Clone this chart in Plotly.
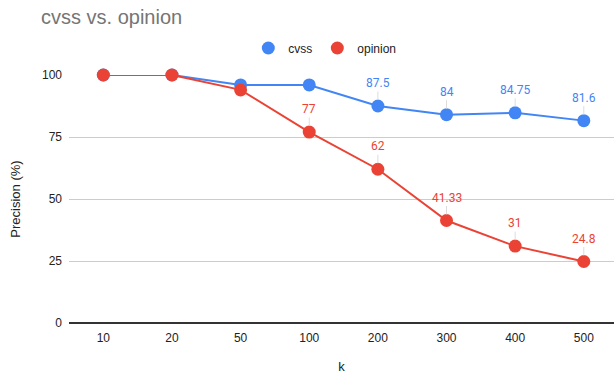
import plotly.graph_objects as go

# Precision at k for the two ranking methods
k_labels = ["10", "20", "50", "100", "200", "300", "400", "500"]
cvss = [100, 100, 96, 96, 87.5, 84, 84.75, 81.6]
opinion = [100, 100, 94, 77, 62, 41.33, 31, 24.8]
# which points carry a value label
cvss_labeled = [False, False, False, False, True, True, True, True]
opinion_labeled = [False, False, False, True, True, True, True, True]

BLUE = "#4285F4"
RED = "#EA4335"
FONT = "Liberation Sans, Arial, sans-serif"

fig = go.Figure()

for name, vals, color in [("cvss", cvss, BLUE), ("opinion", opinion, RED)]:
    fig.add_trace(go.Scatter(
        x=k_labels, y=vals, mode="lines+markers", name=name,
        line=dict(color=color, width=2),
        marker=dict(color=color, size=13),
        cliponaxis=False, showlegend=False,
    ))
    # legend entry shown as a plain dot
    fig.add_trace(go.Scatter(
        x=[None], y=[None], mode="markers", name=name,
        marker=dict(color=color, size=13),
    ))

annotations = []
for vals, flags, color in [(cvss, cvss_labeled, BLUE), (opinion, opinion_labeled, RED)]:
    for i, (v, f) in enumerate(zip(vals, flags)):
        if not f:
            continue
        # category axes place annotations by category index
        annotations.append(dict(
            x=i, y=v, xref="x", yref="y", text=f"{v:g}",
            showarrow=True, arrowhead=0, arrowwidth=1, arrowcolor="#dcdcdc",
            ax=0, ay=-23, standoff=6,
            font=dict(family="Roboto, sans-serif", size=12, color=color),
        ))

fig.update_layout(
    width=614, height=374,
    margin=dict(l=69, r=0, t=75, b=49),
    paper_bgcolor="white", plot_bgcolor="white",
    font=dict(family=FONT, size=12, color="#222"),
    title=dict(text="cvss vs. opinion", x=41 / 614, xref="container", xanchor="left",
               y=1 - 17 / 374, yref="container", yanchor="middle",
               pad=dict(l=0),
               font=dict(family=FONT, size=20, color="#757575")),
    legend=dict(orientation="h", x=0.529, xanchor="center", xref="container",
                y=1 - 48 / 374, yref="container", yanchor="middle",
                font=dict(family=FONT, size=12, color="#222"),
                itemwidth=30, tracegroupgap=0),
    annotations=annotations,
    xaxis=dict(
        type="category", range=[-0.5, 7.44],
        showgrid=False, zeroline=False, showline=False,
        ticks="", tickfont=dict(size=12, color="#222"), ticklabelstandoff=6,
        title=dict(text="k", font=dict(size=13, color="#222"), standoff=20),
    ),
    yaxis=dict(
        range=[0, 100], tickvals=[0, 25, 50, 75, 100],
        showgrid=True, gridcolor="#cccccc", gridwidth=1,
        zeroline=True, zerolinecolor="#333333", zerolinewidth=1.5,
        ticks="", tickfont=dict(size=12, color="#222"), ticklabelstandoff=6,
        title=dict(text="Precision (%)", font=dict(size=13, color="#222"), standoff=18),
    ),
)

fig.write_html("out.html")
